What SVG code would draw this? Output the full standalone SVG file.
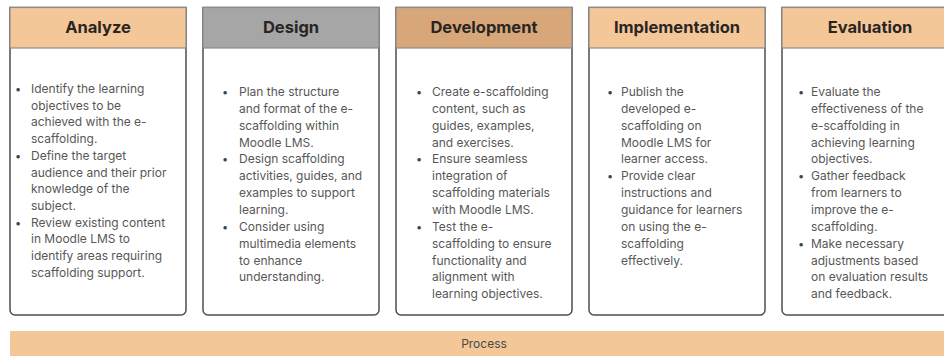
<svg xmlns="http://www.w3.org/2000/svg" width="944" height="356" viewBox="0 0 944 356">
  <style>
    .box { fill: #ffffff; stroke: #4d4d4d; stroke-width: 1.5; }
    .head { stroke: #8c8c8c; stroke-width: 1.2; }
    .peach { fill: #f4c799; }
    .tan { fill: #d7a779; }
    .grey { fill: #a6a6a6; }
    .title { font-family: Inter, "Liberation Sans", sans-serif; font-weight: 700; font-size: 16.5px; fill: #2a2522; text-anchor: middle; }
    .body { font-family: Inter, "Liberation Sans", sans-serif; font-size: 12px; fill: #575757; }
    .dot { font-family: Inter, "Liberation Sans", sans-serif; font-size: 11px; fill: #444444; }
    .bar { fill: #f4c799; }
    .barlabel { font-family: Inter, "Liberation Sans", sans-serif; font-size: 12px; fill: #4a4a4a; text-anchor: middle; }
  </style>

  <!-- phase cards: open top corners, rounded bottom corners -->
  <g id="analyze">
    <path class="box" d="M10,7.5 H186 V310 a5,5 0 0 1 -5,5 H15 a5,5 0 0 1 -5,-5 Z"/>
    <rect class="head peach" x="10" y="7.5" width="176" height="40.5"/>
    <text class="title" x="98" y="33">Analyze</text>
    <text class="dot">
      <tspan x="15" y="93">•</tspan>
      <tspan x="15" y="159.8">•</tspan>
      <tspan x="15" y="226.6">•</tspan>
    </text>
    <text class="body">
      <tspan x="31" y="93">Identify the learning</tspan>
      <tspan x="31" dy="16.7">objectives to be</tspan>
      <tspan x="31" dy="16.7">achieved with the e-</tspan>
      <tspan x="31" dy="16.7">scaffolding.</tspan>
      <tspan x="31" dy="16.7">Define the target</tspan>
      <tspan x="31" dy="16.7">audience and their prior</tspan>
      <tspan x="31" dy="16.7">knowledge of the</tspan>
      <tspan x="31" dy="16.7">subject.</tspan>
      <tspan x="31" dy="16.7">Review existing content</tspan>
      <tspan x="31" dy="16.7">in Moodle LMS to</tspan>
      <tspan x="31" dy="16.7">identify areas requiring</tspan>
      <tspan x="31" dy="16.7">scaffolding support.</tspan>
    </text>
  </g>

  <g id="design">
    <path class="box" d="M203,7.5 H379 V310 a5,5 0 0 1 -5,5 H208 a5,5 0 0 1 -5,-5 Z"/>
    <rect class="head grey" x="203" y="7.5" width="176" height="40.5"/>
    <text class="title" x="291" y="33">Design</text>
    <text class="dot">
      <tspan x="222" y="96">•</tspan>
      <tspan x="222" y="163.4">•</tspan>
      <tspan x="222" y="230.8">•</tspan>
    </text>
    <text class="body">
      <tspan x="239" y="96">Plan the structure</tspan>
      <tspan x="239" dy="16.85">and format of the e-</tspan>
      <tspan x="239" dy="16.85">scaffolding within</tspan>
      <tspan x="239" dy="16.85">Moodle LMS.</tspan>
      <tspan x="239" dy="16.85">Design scaffolding</tspan>
      <tspan x="239" dy="16.85">activities, guides, and</tspan>
      <tspan x="239" dy="16.85">examples to support</tspan>
      <tspan x="239" dy="16.85">learning.</tspan>
      <tspan x="239" dy="16.85">Consider using</tspan>
      <tspan x="239" dy="16.85">multimedia elements</tspan>
      <tspan x="239" dy="16.85">to enhance</tspan>
      <tspan x="239" dy="16.85">understanding.</tspan>
    </text>
  </g>

  <g id="development">
    <path class="box" d="M396,7.5 H572 V310 a5,5 0 0 1 -5,5 H401 a5,5 0 0 1 -5,-5 Z"/>
    <rect class="head tan" x="396" y="7.5" width="176" height="40.5"/>
    <text class="title" x="484" y="33">Development</text>
    <text class="dot">
      <tspan x="416" y="96">•</tspan>
      <tspan x="416" y="163.4">•</tspan>
      <tspan x="416" y="230.8">•</tspan>
    </text>
    <text class="body">
      <tspan x="432" y="96">Create e-scaffolding</tspan>
      <tspan x="432" dy="16.85">content, such as</tspan>
      <tspan x="432" dy="16.85">guides, examples,</tspan>
      <tspan x="432" dy="16.85">and exercises.</tspan>
      <tspan x="432" dy="16.85">Ensure seamless</tspan>
      <tspan x="432" dy="16.85">integration of</tspan>
      <tspan x="432" dy="16.85">scaffolding materials</tspan>
      <tspan x="432" dy="16.85">with Moodle LMS.</tspan>
      <tspan x="432" dy="16.85">Test the e-</tspan>
      <tspan x="432" dy="16.85">scaffolding to ensure</tspan>
      <tspan x="432" dy="16.85">functionality and</tspan>
      <tspan x="432" dy="16.85">alignment with</tspan>
      <tspan x="432" dy="16.85">learning objectives.</tspan>
    </text>
  </g>

  <g id="implementation">
    <path class="box" d="M589,7.5 H765 V310 a5,5 0 0 1 -5,5 H594 a5,5 0 0 1 -5,-5 Z"/>
    <rect class="head peach" x="589" y="7.5" width="176" height="40.5"/>
    <text class="title" x="677" y="33">Implementation</text>
    <text class="dot">
      <tspan x="607" y="96">•</tspan>
      <tspan x="607" y="180.25">•</tspan>
    </text>
    <text class="body">
      <tspan x="621" y="96">Publish the</tspan>
      <tspan x="621" dy="16.85">developed e-</tspan>
      <tspan x="621" dy="16.85">scaffolding on</tspan>
      <tspan x="621" dy="16.85">Moodle LMS for</tspan>
      <tspan x="621" dy="16.85">learner access.</tspan>
      <tspan x="621" dy="16.85">Provide clear</tspan>
      <tspan x="621" dy="16.85">instructions and</tspan>
      <tspan x="621" dy="16.85">guidance for learners</tspan>
      <tspan x="621" dy="16.85">on using the e-</tspan>
      <tspan x="621" dy="16.85">scaffolding</tspan>
      <tspan x="621" dy="16.85">effectively.</tspan>
    </text>
  </g>

  <g id="evaluation">
    <path class="box" d="M782,7.5 H958 V310 a5,5 0 0 1 -5,5 H787 a5,5 0 0 1 -5,-5 Z"/>
    <rect class="head peach" x="782" y="7.5" width="176" height="40.5"/>
    <text class="title" x="870" y="33">Evaluation</text>
    <text class="dot">
      <tspan x="798" y="96">•</tspan>
      <tspan x="798" y="180.25">•</tspan>
      <tspan x="798" y="247.65">•</tspan>
    </text>
    <text class="body">
      <tspan x="811" y="96">Evaluate the</tspan>
      <tspan x="811" dy="16.85">effectiveness of the</tspan>
      <tspan x="811" dy="16.85">e-scaffolding in</tspan>
      <tspan x="811" dy="16.85">achieving learning</tspan>
      <tspan x="811" dy="16.85">objectives.</tspan>
      <tspan x="811" dy="16.85">Gather feedback</tspan>
      <tspan x="811" dy="16.85">from learners to</tspan>
      <tspan x="811" dy="16.85">improve the e-</tspan>
      <tspan x="811" dy="16.85">scaffolding.</tspan>
      <tspan x="811" dy="16.85">Make necessary</tspan>
      <tspan x="811" dy="16.85">adjustments based</tspan>
      <tspan x="811" dy="16.85">on evaluation results</tspan>
      <tspan x="811" dy="16.85">and feedback.</tspan>
    </text>
  </g>

  <!-- no connectors between the phase cards -->
  <g id="connectors"/>

  <!-- process band spanning all phases -->
  <g id="process">
    <rect class="bar" x="10" y="331" width="948" height="30"/>
    <text class="barlabel" x="484" y="348">Process</text>
  </g>
</svg>
